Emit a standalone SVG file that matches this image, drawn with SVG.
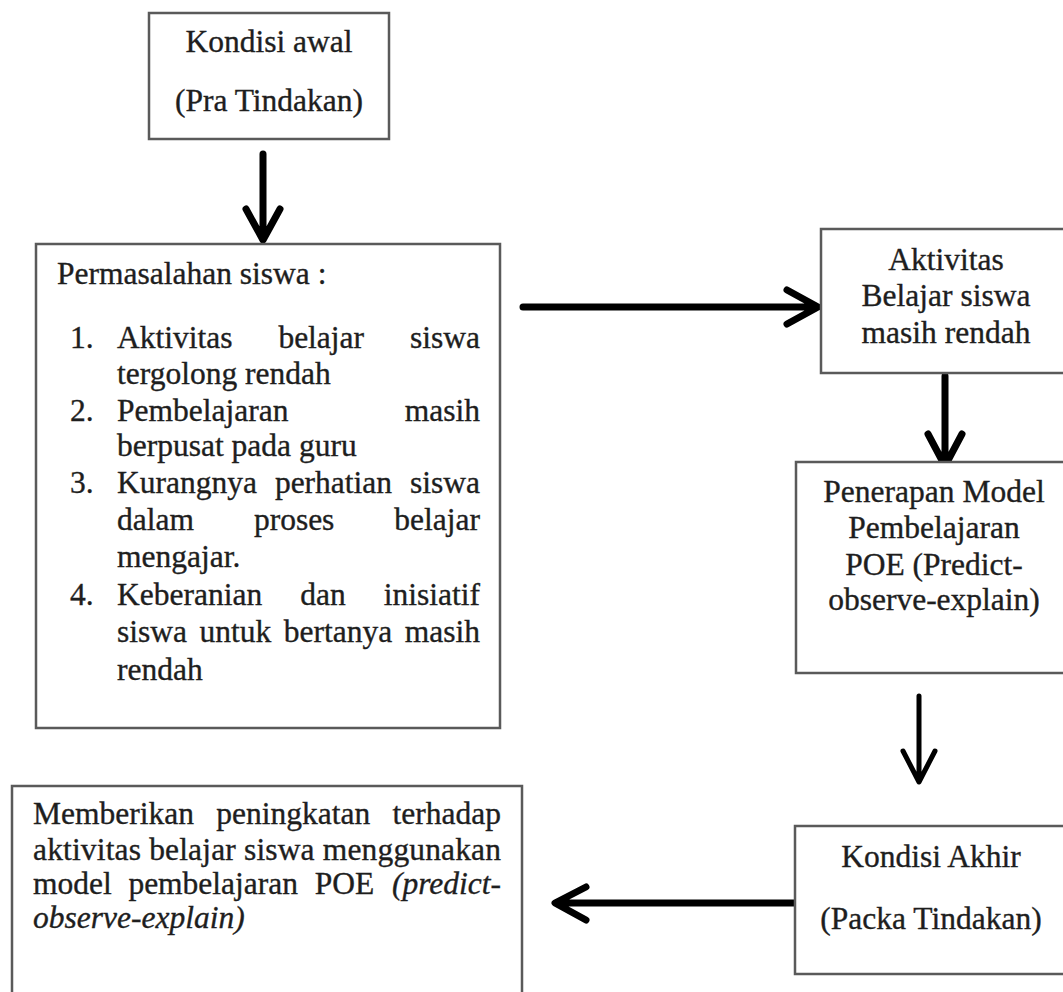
<svg xmlns="http://www.w3.org/2000/svg" width="1063" height="992" viewBox="0 0 1063 992">
<style>
.box{fill:#fff;stroke:#5a5a5a;stroke-width:2.5}
text{font-family:"Liberation Serif","Times New Roman",serif;font-size:31.5px;fill:#1e1e1e;stroke:#1e1e1e;stroke-width:0.35}
.c{text-anchor:middle}
.e{text-anchor:end}
.i{font-style:italic}
.arr{fill:none;stroke:#000;stroke-width:7;stroke-linecap:round;stroke-linejoin:round}
</style>
<rect width="1063" height="992" fill="#fff"/>
<g id="connectors">
<path class="arr" d="M263 154V239M246 209L263 240L280 209"/>
<path class="arr" d="M523 307H816M787 290L818 307L787 324"/>
<path class="arr" d="M945 376V464M928 434L945 466L962 434"/>
<path class="arr" style="stroke-width:5" d="M919 696V780M903 751L919 782L935 751"/>
<path class="arr" d="M797 903H557M586 887L555 903L586 920"/>
</g>
<g id="node-kondisi-awal">
<rect class="box" x="149" y="13" width="240" height="126"/>
<text class="c" x="269" y="52">Kondisi awal</text>
<text class="c" x="269" y="111">(Pra Tindakan)</text>
</g>
<g id="node-permasalahan">
<rect class="box" x="36" y="244" width="464" height="484"/>
<text x="57" y="284">Permasalahan siswa :</text>
<text x="70" y="348">1.</text>
<text x="117" y="348">Aktivitas</text>
<text x="278.4" y="348">belajar</text>
<text class="e" x="480" y="348">siswa</text>
<text x="117" y="384">tergolong rendah</text>
<text x="70" y="421">2.</text>
<text x="117" y="421">Pembelajaran</text>
<text class="e" x="480" y="421">masih</text>
<text x="117" y="456">berpusat pada guru</text>
<text x="70" y="493">3.</text>
<text x="117" y="493">Kurangnya</text>
<text x="274.9" y="493">perhatian</text>
<text class="e" x="480" y="493">siswa</text>
<text x="117" y="530">dalam</text>
<text x="253.9" y="530">proses</text>
<text class="e" x="480" y="530">belajar</text>
<text x="117" y="567">mengajar.</text>
<text x="70" y="605">4.</text>
<text x="117" y="605">Keberanian</text>
<text x="300.2" y="605">dan</text>
<text class="e" x="480" y="605">inisiatif</text>
<text x="117" y="642">siswa</text>
<text x="199.5" y="642">untuk</text>
<text x="283.8" y="642">bertanya</text>
<text class="e" x="480" y="642">masih</text>
<text x="117" y="680">rendah</text>
</g>
<g id="node-aktivitas">
<rect class="box" x="821" y="229" width="252" height="144"/>
<text class="c" x="946" y="270">Aktivitas</text>
<text class="c" x="946" y="306">Belajar siswa</text>
<text class="c" x="946" y="343">masih rendah</text>
</g>
<g id="node-penerapan">
<rect class="box" x="796" y="462" width="278" height="211"/>
<text class="c" x="934" y="502">Penerapan Model</text>
<text class="c" x="934" y="538">Pembelajaran</text>
<text class="c" x="934" y="575">POE (Predict-</text>
<text class="c" x="934" y="610">observe-explain)</text>
</g>
<g id="node-kondisi-akhir">
<rect class="box" x="795" y="826" width="274" height="148"/>
<text class="c" x="931" y="867">Kondisi Akhir</text>
<text class="c" x="931" y="929">(Packa Tindakan)</text>
</g>
<g id="node-hasil">
<rect class="box" x="12" y="786" width="510" height="230"/>
<text x="33" y="824">Memberikan</text>
<text x="216.3" y="824">peningkatan</text>
<text class="e" x="501" y="824">terhadap</text>
<text x="33" y="860" textLength="468" lengthAdjust="spacing">aktivitas belajar siswa menggunakan</text>
<text x="33" y="894">model</text>
<text x="128.4" y="894">pembelajaran</text>
<text x="314.7" y="894">POE</text>
<text class="e i" x="501" y="894">(predict-</text>
<text class="i" x="33" y="928">observe-explain)</text>
</g>
</svg>
